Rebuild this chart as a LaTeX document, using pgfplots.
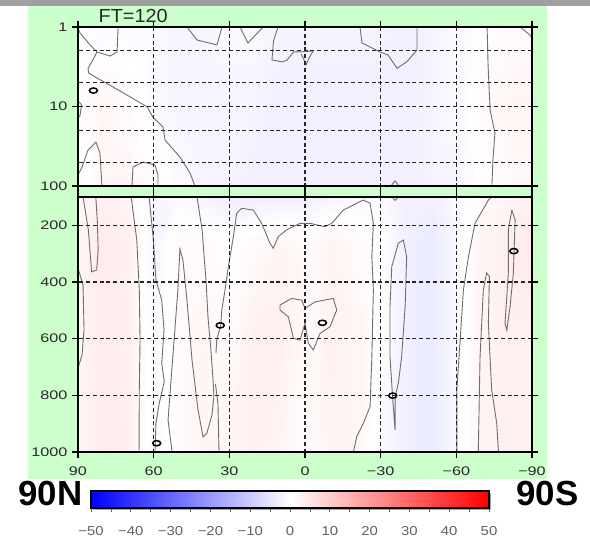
\documentclass[border=0pt]{standalone}
\usepackage{fontspec}
\setmainfont{Liberation Sans}
\usepackage{pgfplots}
\pgfplotsset{compat=1.18}
\usepackage{pgfplotstable}

\definecolor{bggreen}{RGB}{204,255,204}
\definecolor{strip}{RGB}{160,160,160}
\definecolor{cline}{RGB}{110,110,110}
\definecolor{lab}{RGB}{40,40,40}

% faint background field (value, colour scale -50..50)
\pgfplotstableread{
lon p v
90 1 0
80 1 -1
70 1 -1
60 1 -1
50 1 -2
40 1 -2
30 1 -1
20 1 -1
10 1 -2
0 1 -2
-10 1 -2
-20 1 -2
-30 1 -2
-40 1 -3
-50 1 -2
-60 1 -1
-70 1 0
-80 1 1
-90 1 1
90 10 1
80 10 2
70 10 1
60 10 -1
50 10 -2
40 10 -2
30 10 -2
20 10 -2
10 10 -3
0 10 -3
-10 10 -3
-20 10 -3
-30 10 -3
-40 10 -3
-50 10 -2
-60 10 -1
-70 10 1
-80 10 2
-90 10 2
90 100 -1
80 100 2
70 100 2
60 100 1
50 100 -1
40 100 -2
30 100 -2
20 100 -3
10 100 -3
0 100 -3
-10 100 -3
-20 100 -3
-30 100 -3
-40 100 -3
-50 100 -2
-60 100 -2
-70 100 0
-80 100 1
-90 100 2
}\topfield

\pgfplotstableread{
lon p v
90 100 1
80 100 3
70 100 2
60 100 -2
50 100 -1
40 100 -2
30 100 -3
20 100 -3
10 100 -3
0 100 -3
-10 100 -2
-20 100 -2
-30 100 -1
-40 100 -3
-50 100 -3
-60 100 -1
-70 100 1
-80 100 2
-90 100 3
90 250 2
80 250 4
70 250 3
60 250 -2
50 250 1
40 250 1
30 250 0
20 250 1
10 250 2
0 250 1
-10 250 2
-20 250 1
-30 250 0
-40 250 -3
-50 250 -4
-60 250 -1
-70 250 2
-80 250 3
-90 250 4
90 600 2
80 600 4
70 600 3
60 600 -1
50 600 1
40 600 2
30 600 1
20 600 3
10 600 3
0 600 1
-10 600 3
-20 600 2
-30 600 0
-40 600 -3
-50 600 -4
-60 600 -1
-70 600 2
-80 600 3
-90 600 3
90 1000 2
80 1000 4
70 1000 3
60 1000 -1
50 1000 1
40 1000 2
30 1000 2
20 1000 3
10 1000 2
0 1000 1
-10 1000 2
-20 1000 2
-30 1000 -1
-40 1000 -3
-50 1000 -4
-60 1000 -1
-70 1000 2
-80 1000 3
-90 1000 3
}\botfield

\pgfplotsset{
  colormap={bwr}{rgb255=(0,0,255) rgb255=(255,255,255) rgb255=(255,0,0)},
  panel/.style={
    scale only axis, width=454bp, anchor=south west,
    xmin=-90, xmax=90, x dir=reverse,
    xtick={-90,-60,-30,0,30,60,90},
    axis line style={line width=2.4bp, black},
    major tick style={line width=1.3bp, black},
    major tick length=6bp,
    tick align=outside,
    tick pos=both,
    xmajorgrids, ymajorgrids,
    grid style={black!85, line width=1.1bp, dash pattern=on 4bp off 2.8bp},
    axis on top,
    colormap name=bwr,
    point meta min=-50, point meta max=50,
    tick label style={font=\fontsize{12.5}{13}\selectfont, text=lab, xscale=1.3},
    /pgf/number format/assume math mode=true,
  },
  contour/.style={cline, line width=0.9bp, no marks},
  lbl/.style={only marks, mark=o, mark size=2.6bp,
    mark options={xscale=1.55, line width=1.5bp, draw=black, fill=white}},
}

\begin{document}
\begin{tikzpicture}[x=1bp,y=1bp]
\useasboundingbox (0,0) rectangle (590,539);
\fill[white] (0,0) rectangle (590,539);
\fill[strip] (0,533) rectangle (590,539);
\fill[bggreen] (28,60) rectangle (547,533);

% ---------------- upper panel (1-100 hPa, log) ----------------
\begin{axis}[panel, at={(78bp,353bp)}, height=159bp,
  ymode=log, ymin=1, ymax=100, y dir=reverse,
  ytick={1,10,100}, yticklabels={1,10,100},
  minor ytick={2,5,20,50}, yminorgrids=true,
  minor grid style={black!85, line width=1.1bp, dash pattern=on 4bp off 2.8bp},
  minor tick length=0pt,
  xticklabels={}]
\addplot[surf, shader=interp, mesh/cols=19, point meta=explicit]
  table[x=lon, y=p, meta=v] {\topfield};
\addplot[contour] coordinates {(90,1.05)(89.2,1.19)(85.2,1.68)(82.5,2.06)(77.3,2.32)(74.5,2.06)(74.1,1)};
\addplot[contour] coordinates {(82.5,2.06)(84.1,2.6)(86.0,3.3)(85.8,3.8)(84.4,4.02)(82.5,4.38)(76.1,5.69)(70.6,7.17)(62.6,10.1)(60.3,13.6)(56.3,18.1)(55.5,26.4)(49.6,43.2)(45.6,68.6)(43.6,100)};
\addplot[contour] coordinates {(90,8.5)(88.6,9.5)(89.2,13)(90,14)};
\addplot[contour] coordinates {(90,72.7)(88.4,57.7)(86.0,35.2)(82.9,28.0)(81.3,38.5)(80.5,100)};
\addplot[contour] coordinates {(68.6,100)(68.2,57.7)(64.2,49.9)(59.5,54.4)(58.3,72.7)(58.3,100)};
\addplot[contour] coordinates {(46.8,1)(42.8,1.46)(34.9,1.68)(32.9,1)};
\addplot[contour] coordinates {(25.8,1)(22.6,1.59)(16.6,1)};
\addplot[contour] coordinates {(10.7,1)(12.5,1.5)(13.1,2.6)(9,2.75)(7.1,2.6)(4.5,2.06)(2,2.06)(-3.2,2.0)(-1.5,2.5)(-0.4,3.0)(0.6,2.5)(1.5,2.2)};
\addplot[contour] coordinates {(-21.8,1)(-22.6,1.59)(-29.7,2.06)(-32.9,2.25)(-36.5,3.31)(-40.4,2.73)(-44.4,1.95)(-44.4,1)};
\addplot[contour] coordinates {(-72.2,1)(-72.6,3.19)(-73.4,11.1)(-75.3,21.5)(-74.5,47.1)(-74.1,100)};
\addplot[contour] coordinates {(-85.3,1)(-89.2,1.26)(-90,1.4)};
\addplot[contour] coordinates {(-34.1,100)(-35.7,86.5)(-37.3,100)};
\addplot[lbl] coordinates {(83.9,6.3)};
\end{axis}

% ---------------- lower panel (100-1000 hPa) ----------------
\begin{axis}[panel, at={(78bp,87bp)}, height=255bp,
  ymin=100, ymax=1000, y dir=reverse,
  ytick={200,400,600,800,1000}, yticklabels={200,400,600,800,1000},
  xticklabels={−90,−60,−30,0,30,60,90},
  xticklabel style={yshift=-5bp}]
\addplot[surf, shader=interp, mesh/cols=19, point meta=explicit]
  table[x=lon, y=p, meta=v] {\botfield};
\addplot[contour] coordinates {(90,351)(88.0,411)(87.6,569)(88.4,658)(90,704)};
\addplot[contour] coordinates {(88,100)(87.9,104)(85.9,216)(84.6,364)(82.6,358)(82.0,287)(82.3,192)(82.9,104)(83,100)};
\addplot[contour] coordinates {(68.9,100)(66.7,252)(65.7,428)(65.4,605)(65.7,781)(65.8,1000)};
\addplot[contour] coordinates {(61.8,100)(60.1,252)(59.1,393)(56.8,464)(55.9,570)(56.8,687)(55.8,752)(57.8,828)(59.1,899)(59.5,1000)};
\addplot[contour] coordinates {(52.7,1000)(54.3,887)(53.5,792)(51.9,605)(50.4,428)(49.6,284)(48.4,322)(46.8,464)(44.8,675)(42.4,852)(40.4,947)(38.9,933)(36.9,870)(36.1,800)(36.5,740)(37.3,640)(38.5,520)(39.2,400)(40.8,216)(42.8,100)};
\addplot[contour] coordinates {(35.5,760)(34.5,830)(34.1,1000)};
\addplot[contour] coordinates {(35.3,651)(35.0,605)(33.4,552)(33.0,499)(31.7,428)(30.4,346)(28.4,240)(27.1,158)(25.1,140)(20.5,146)(17.2,193)(13.9,263)(12.6,281)(10.6,240)(7.3,216)(2.0,193)(-2.0,193)(-7.9,205)(-10.6,193)(-15.2,146)(-23.1,111)(-25.8,122)(-27.1,193)(-26.5,311)(-27.1,428)(-26.5,664)(-25.8,840)(-23.1,899)(-20.5,946)(-19.2,1000)};
\addplot[contour] coordinates {(9.9,481)(5.3,458)(1.3,464)(0.0,493)(-4.0,470)(-11.2,458)(-12.6,499)(-9.9,558)(-6.0,581)(-3.3,640)(-1.3,616)(0.0,546)(2.0,605)(4.6,599)(6.6,523)(9.9,499)(9.9,481)};
\addplot[contour] coordinates {(-34.4,346)(-37.0,263)(-39.0,252)(-40.3,311)(-39.7,487)(-38.3,664)(-37.0,758)(-35.7,805)(-35.7,922)(-34.8,817)(-33.7,664)(-33.7,487)(-34.4,346)};
\addplot[contour] coordinates {(-74,100)(-72.7,111)(-67.4,193)(-64.8,311)(-62.8,428)(-61.5,605)(-60.2,781)(-60.2,1000)};
\addplot[contour] coordinates {(-68.7,1000)(-69.4,664)(-70.7,428)(-72.0,368)(-73.1,381)(-72.7,546)(-74.0,781)(-76.0,898)(-76.7,1000)};
\addplot[contour] coordinates {(-82.0,146)(-83.3,181)(-82.6,369)(-81.3,487)(-80.0,570)(-79.3,546)(-80.6,369)(-80.6,216)(-82.0,146)};
\addplot[contour] coordinates {(-34.5,100)(-35.7,112)(-37,100)};
\addplot[lbl] coordinates {(58.8,969)(33.6,553)(-6.9,544)(-34.8,801)(-82.8,291)};
\end{axis}

% ---------------- colour bar ----------------
\fill[black!35] (93,29) rectangle (491,46);
\begin{axis}[scale only axis, at={(91bp,31bp)}, anchor=south west,
  width=398bp, height=17bp,
  xmin=-50, xmax=50, ymin=0, ymax=1,
  ytick=\empty,
  xtick={-50,-40,-30,-20,-10,0,10,20,30,40,50},
  xticklabels={−50,−40,−30,−20,−10,0,10,20,30,40,50},
  minor xtick={-45,-35,-25,-15,-5,5,15,25,35,45},
  xtick pos=bottom, tick align=outside,
  major tick length=4bp, minor tick length=4bp,
  tick style={line width=0.8bp, black!60},
  axis line style={line width=1.8bp, black},
  colormap name=bwr, point meta min=-50, point meta max=50,
  axis on top,
  xticklabel style={font=\fontsize{13}{14}\selectfont, text=black!62, xscale=1.15, yshift=-11bp}]
\addplot[surf, shader=interp, mesh/cols=3, point meta=explicit]
  table[x=x, y=y, meta=v] {
x y v
-50 0 -50
0 0 0
50 0 50
-50 1 -50
0 1 0
50 1 50
};
\end{axis}

\node[anchor=base west, text=lab, font=\fontsize{19}{21}\selectfont, xscale=1.05] at (95,516) {FT=120};
\node[anchor=base, font=\bfseries\fontsize{35}{37}\selectfont, inner sep=0pt] at (50.5,33) {90N};
\node[anchor=base, font=\bfseries\fontsize{35}{37}\selectfont, inner sep=0pt] at (547.5,33) {90S};
\end{tikzpicture}
\end{document}
